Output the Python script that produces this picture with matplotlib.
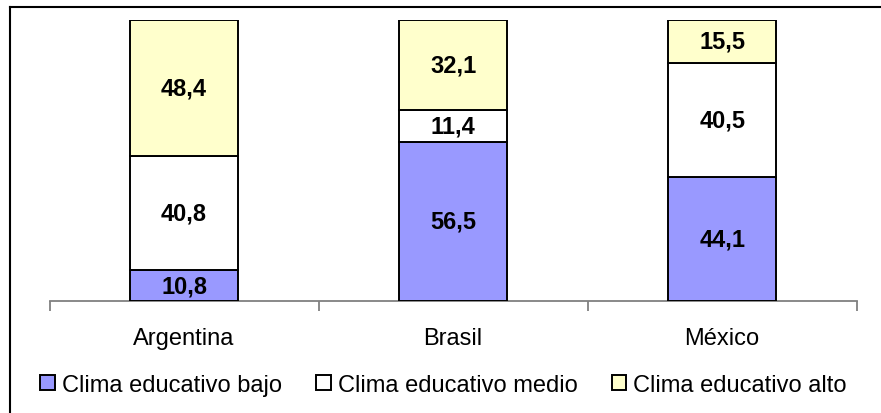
import matplotlib
matplotlib.use("Agg")
import matplotlib.pyplot as plt
from matplotlib.lines import Line2D
import numpy as np

plt.rcParams['font.family'] = ['Liberation Sans', 'DejaVu Sans']

categories = ["Argentina", "Brasil", "México"]
series_names = ["Clima educativo bajo", "Clima educativo medio", "Clima educativo alto"]
bajo = [10.8, 56.5, 44.1]
medio = [40.8, 11.4, 40.5]
alto = [48.4, 32.1, 15.5]
colors = ["#9999FF", "#FFFFFF", "#FFFFCC"]

W, H = 881, 414
fig = plt.figure(figsize=(W / 100, H / 100), dpi=100)
ax = fig.add_axes([49.5 / W, (H - 301.7) / H, (856.7 - 49.5) / W, (301.7 - 21) / H])

x = np.arange(len(categories))
bottom = np.zeros(len(categories))
for vals, col, name in zip([bajo, medio, alto], colors, series_names):
    bars = ax.bar(x, vals, width=0.4, bottom=bottom, color=col, edgecolor="black",
                  linewidth=1.4, label=name, zorder=3)
    for xi, v, b in zip(x, vals, bottom):
        ax.text(xi, b + v / 2, f"{v:.1f}".replace(".", ","), ha="center", va="center",
                fontsize=17, fontweight="bold", zorder=4)
    bottom = bottom + np.array(vals)

ax.set_xlim(-0.5, len(categories) - 0.5)
ax.set_ylim(0, 100)
ax.set_yticks([])
for s in ["top", "right", "left"]:
    ax.spines[s].set_visible(False)
ax.spines["bottom"].set_color("#808080")
ax.spines["bottom"].set_linewidth(1.3)
ax.set_xticks(x)
ax.set_xticklabels(categories, fontsize=17)
ax.tick_params(axis="x", which="major", length=0, pad=19)
ax.set_xticks(np.arange(-0.5, len(categories)), minor=True)
ax.tick_params(axis="x", which="minor", length=7, width=1.3, color="#808080", direction="out")

handles, labels = ax.get_legend_handles_labels()
fig.legend(handles, labels, loc="center left", bbox_to_anchor=(40 / W, (H - 386) / H),
           ncol=3, frameon=False, fontsize=17, handlelength=0.62, handleheight=0.62,
           handletextpad=0.3, columnspacing=1.45, borderaxespad=0, borderpad=0)

# figure frame (left and top edges)
fig.add_artist(Line2D([10 / W, 10 / W], [0, (H - 8) / H], color="black", linewidth=1.5,
                      transform=fig.transFigure))
fig.add_artist(Line2D([10 / W, 1], [(H - 8) / H, (H - 8) / H], color="black", linewidth=1.5,
                      transform=fig.transFigure))

fig.savefig("out.png", dpi=100)
